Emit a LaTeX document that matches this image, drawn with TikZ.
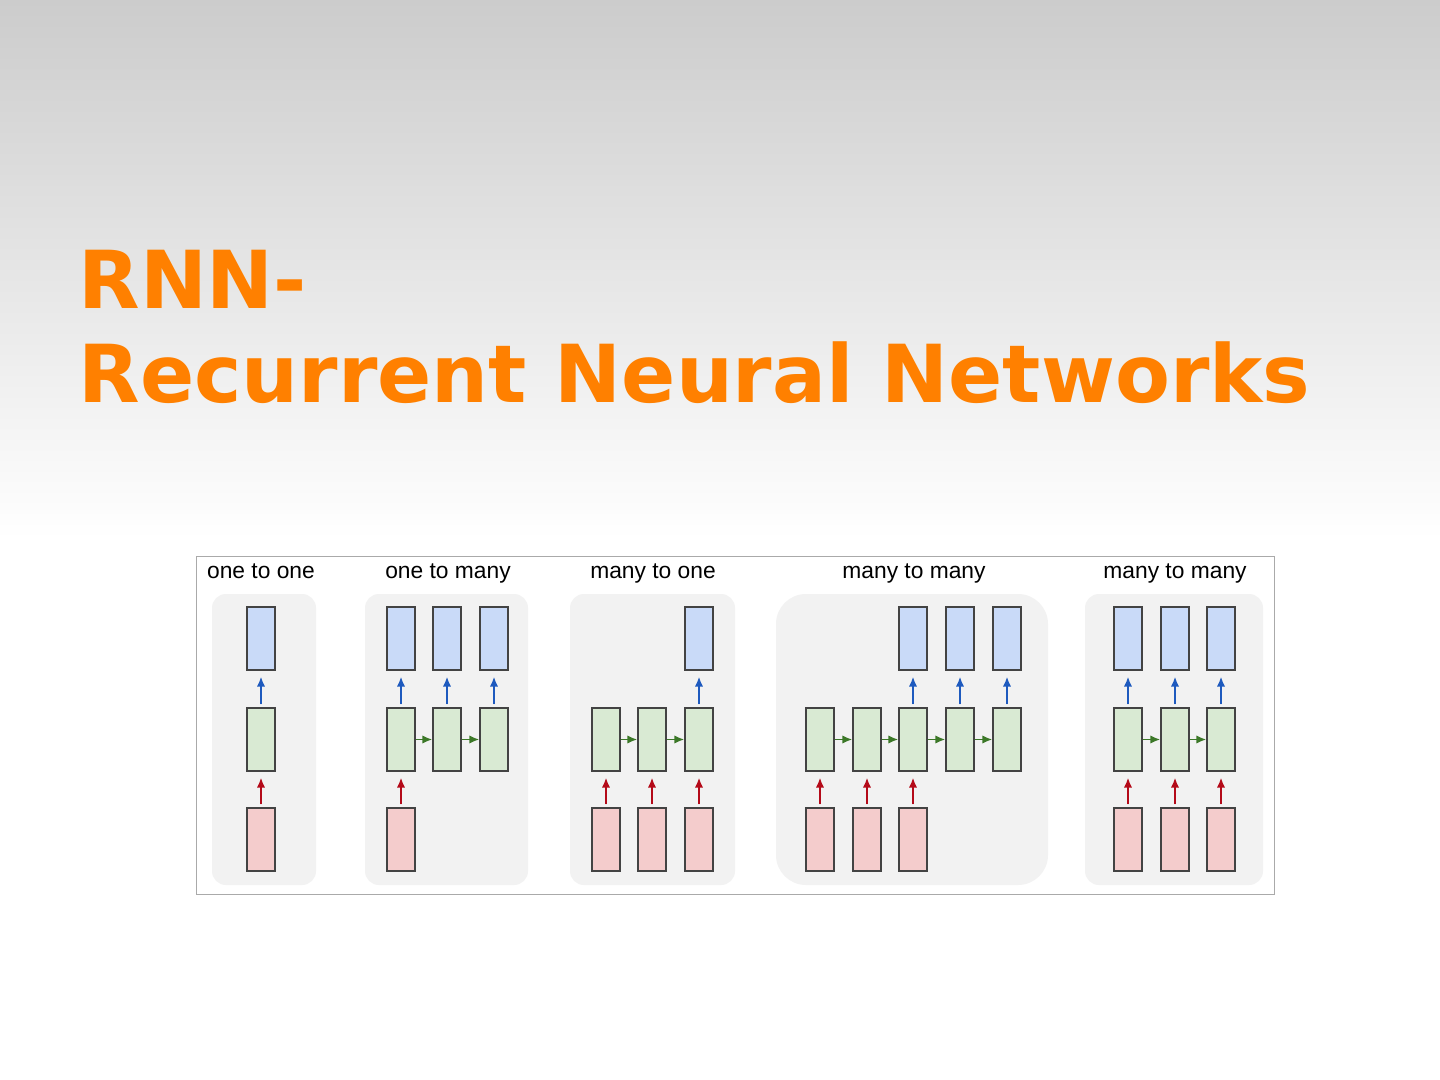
\documentclass[tikz,border=0pt]{standalone}
\usepackage{fontspec}
\setmainfont{Liberation Sans}
\newfontfamily\titlefont{DejaVu Sans}
\usetikzlibrary{arrows.meta}
\definecolor{bgtop}{RGB}{204,204,204}
\definecolor{titleorange}{RGB}{255,128,0}
\definecolor{panelgray}{RGB}{242,242,242}
\definecolor{framegray}{RGB}{170,170,170}
\definecolor{boxline}{RGB}{67,67,67}
\definecolor{inred}{RGB}{244,204,204}
\definecolor{hidgreen}{RGB}{217,234,211}
\definecolor{outblue}{RGB}{201,218,248}
\definecolor{redarrow}{RGB}{180,10,25}
\definecolor{greenarrow}{RGB}{60,120,40}
\definecolor{bluearrow}{RGB}{30,90,190}

\begin{document}
\begin{tikzpicture}[x=0.5pt,y=-0.5pt,>={Latex[length=5pt,width=4.2pt]},
	cell/.style={draw=boxline,line width=0.65pt,minimum width=14pt,minimum height=31.5pt,inner sep=0pt},
	inbox/.style={cell,fill=inred},
	hidbox/.style={cell,fill=hidgreen},
	outbox/.style={cell,fill=outblue},
	feed/.style={->,line width=0.9pt,shorten <=1.5pt,shorten >=3pt},
	redup/.style={feed,draw=redarrow,fill=redarrow},
	blueup/.style={feed,draw=bluearrow,fill=bluearrow},
	rec/.style={->,line width=0.9pt,draw=greenarrow,fill=greenarrow},
	panel/.style={fill=panelgray,rounded corners=7pt},
	kind/.style={anchor=base,font=\fontsize{11.4}{13}\selectfont}]
	\useasboundingbox (0,0) rectangle (1440,1080);
%	background and title
	\fill[white] (0,0) rectangle (1440,1080);
	\shade[top color=bgtop,bottom color=white] (0,0) rectangle (1440,540);
	\node[anchor=base west,text=titleorange,inner sep=0pt,font=\titlefont\bfseries\fontsize{40}{47}\selectfont] (title1) at (78,309) {RNN-};
	\node[anchor=base west,text=titleorange,inner sep=0pt,font=\titlefont\bfseries\fontsize{40}{47}\selectfont] (title2) at (78,403) {Recurrent Neural Networks};
%	frame and panels
	\draw[framegray,line width=0.5pt,fill=white] (196,556) rectangle (1274,894);
	\fill[panel] (212,594) rectangle (316,885);
	\fill[panel] (365,594) rectangle (528,885);
	\fill[panel] (570,594) rectangle (735,885);
	\fill[panel,rounded corners=15pt] (776,594) rectangle (1048,885);
	\fill[panel] (1085,594) rectangle (1263,885);
	\node[kind] (l1) at (261,578) {one to one};
	\node[kind] (l2) at (448,578) {one to many};
	\node[kind] (l3) at (653,578) {many to one};
	\node[kind] (l4) at (914,578) {many to many};
	\node[kind] (l5) at (1175,578) {many to many};
%	one to one
	\node[inbox] (oo-x) at (261,839.5) {};
	\node[hidbox] (oo-h) at (261,739.5) {};
	\node[outbox] (oo-y) at (261,638.5) {};
	\draw[redup] (oo-x.north) -- (oo-h.south);
	\draw[blueup] (oo-h.north) -- (oo-y.south);
%	one to many
	\node[inbox] (om-x) at (401,839.5) {};
	\foreach \i/\x in {1/401,2/447,3/494} {
		\node[hidbox] (om-h\i) at (\x,739.5) {};
		\node[outbox] (om-y\i) at (\x,638.5) {};
		\draw[blueup] (om-h\i.north) -- (om-y\i.south);
	}
	\draw[redup] (om-x.north) -- (om-h1.south);
	\foreach \i/\j in {1/2,2/3} \draw[rec] (om-h\i.east) -- (om-h\j.west);
%	many to one
	\foreach \i/\x in {1/606,2/652,3/699} {
		\node[inbox] (mo-x\i) at (\x,839.5) {};
		\node[hidbox] (mo-h\i) at (\x,739.5) {};
		\draw[redup] (mo-x\i.north) -- (mo-h\i.south);
	}
	\node[outbox] (mo-y) at (699,638.5) {};
	\draw[blueup] (mo-h3.north) -- (mo-y.south);
	\foreach \i/\j in {1/2,2/3} \draw[rec] (mo-h\i.east) -- (mo-h\j.west);
%	many to many, delayed
	\foreach \i/\x in {1/820,2/867,3/913,4/960,5/1007} \node[hidbox] (mm-h\i) at (\x,739.5) {};
	\foreach \i/\x in {1/820,2/867,3/913} {
		\node[inbox] (mm-x\i) at (\x,839.5) {};
		\draw[redup] (mm-x\i.north) -- (mm-h\i.south);
	}
	\foreach \i/\x in {3/913,4/960,5/1007} {
		\node[outbox] (mm-y\i) at (\x,638.5) {};
		\draw[blueup] (mm-h\i.north) -- (mm-y\i.south);
	}
	\foreach \i/\j in {1/2,2/3,3/4,4/5} \draw[rec] (mm-h\i.east) -- (mm-h\j.west);
%	many to many, synced
	\foreach \i/\x in {1/1128,2/1175,3/1221} {
		\node[inbox] (sm-x\i) at (\x,839.5) {};
		\node[hidbox] (sm-h\i) at (\x,739.5) {};
		\node[outbox] (sm-y\i) at (\x,638.5) {};
		\draw[redup] (sm-x\i.north) -- (sm-h\i.south);
		\draw[blueup] (sm-h\i.north) -- (sm-y\i.south);
	}
	\foreach \i/\j in {1/2,2/3} \draw[rec] (sm-h\i.east) -- (sm-h\j.west);
\end{tikzpicture}
\end{document}
